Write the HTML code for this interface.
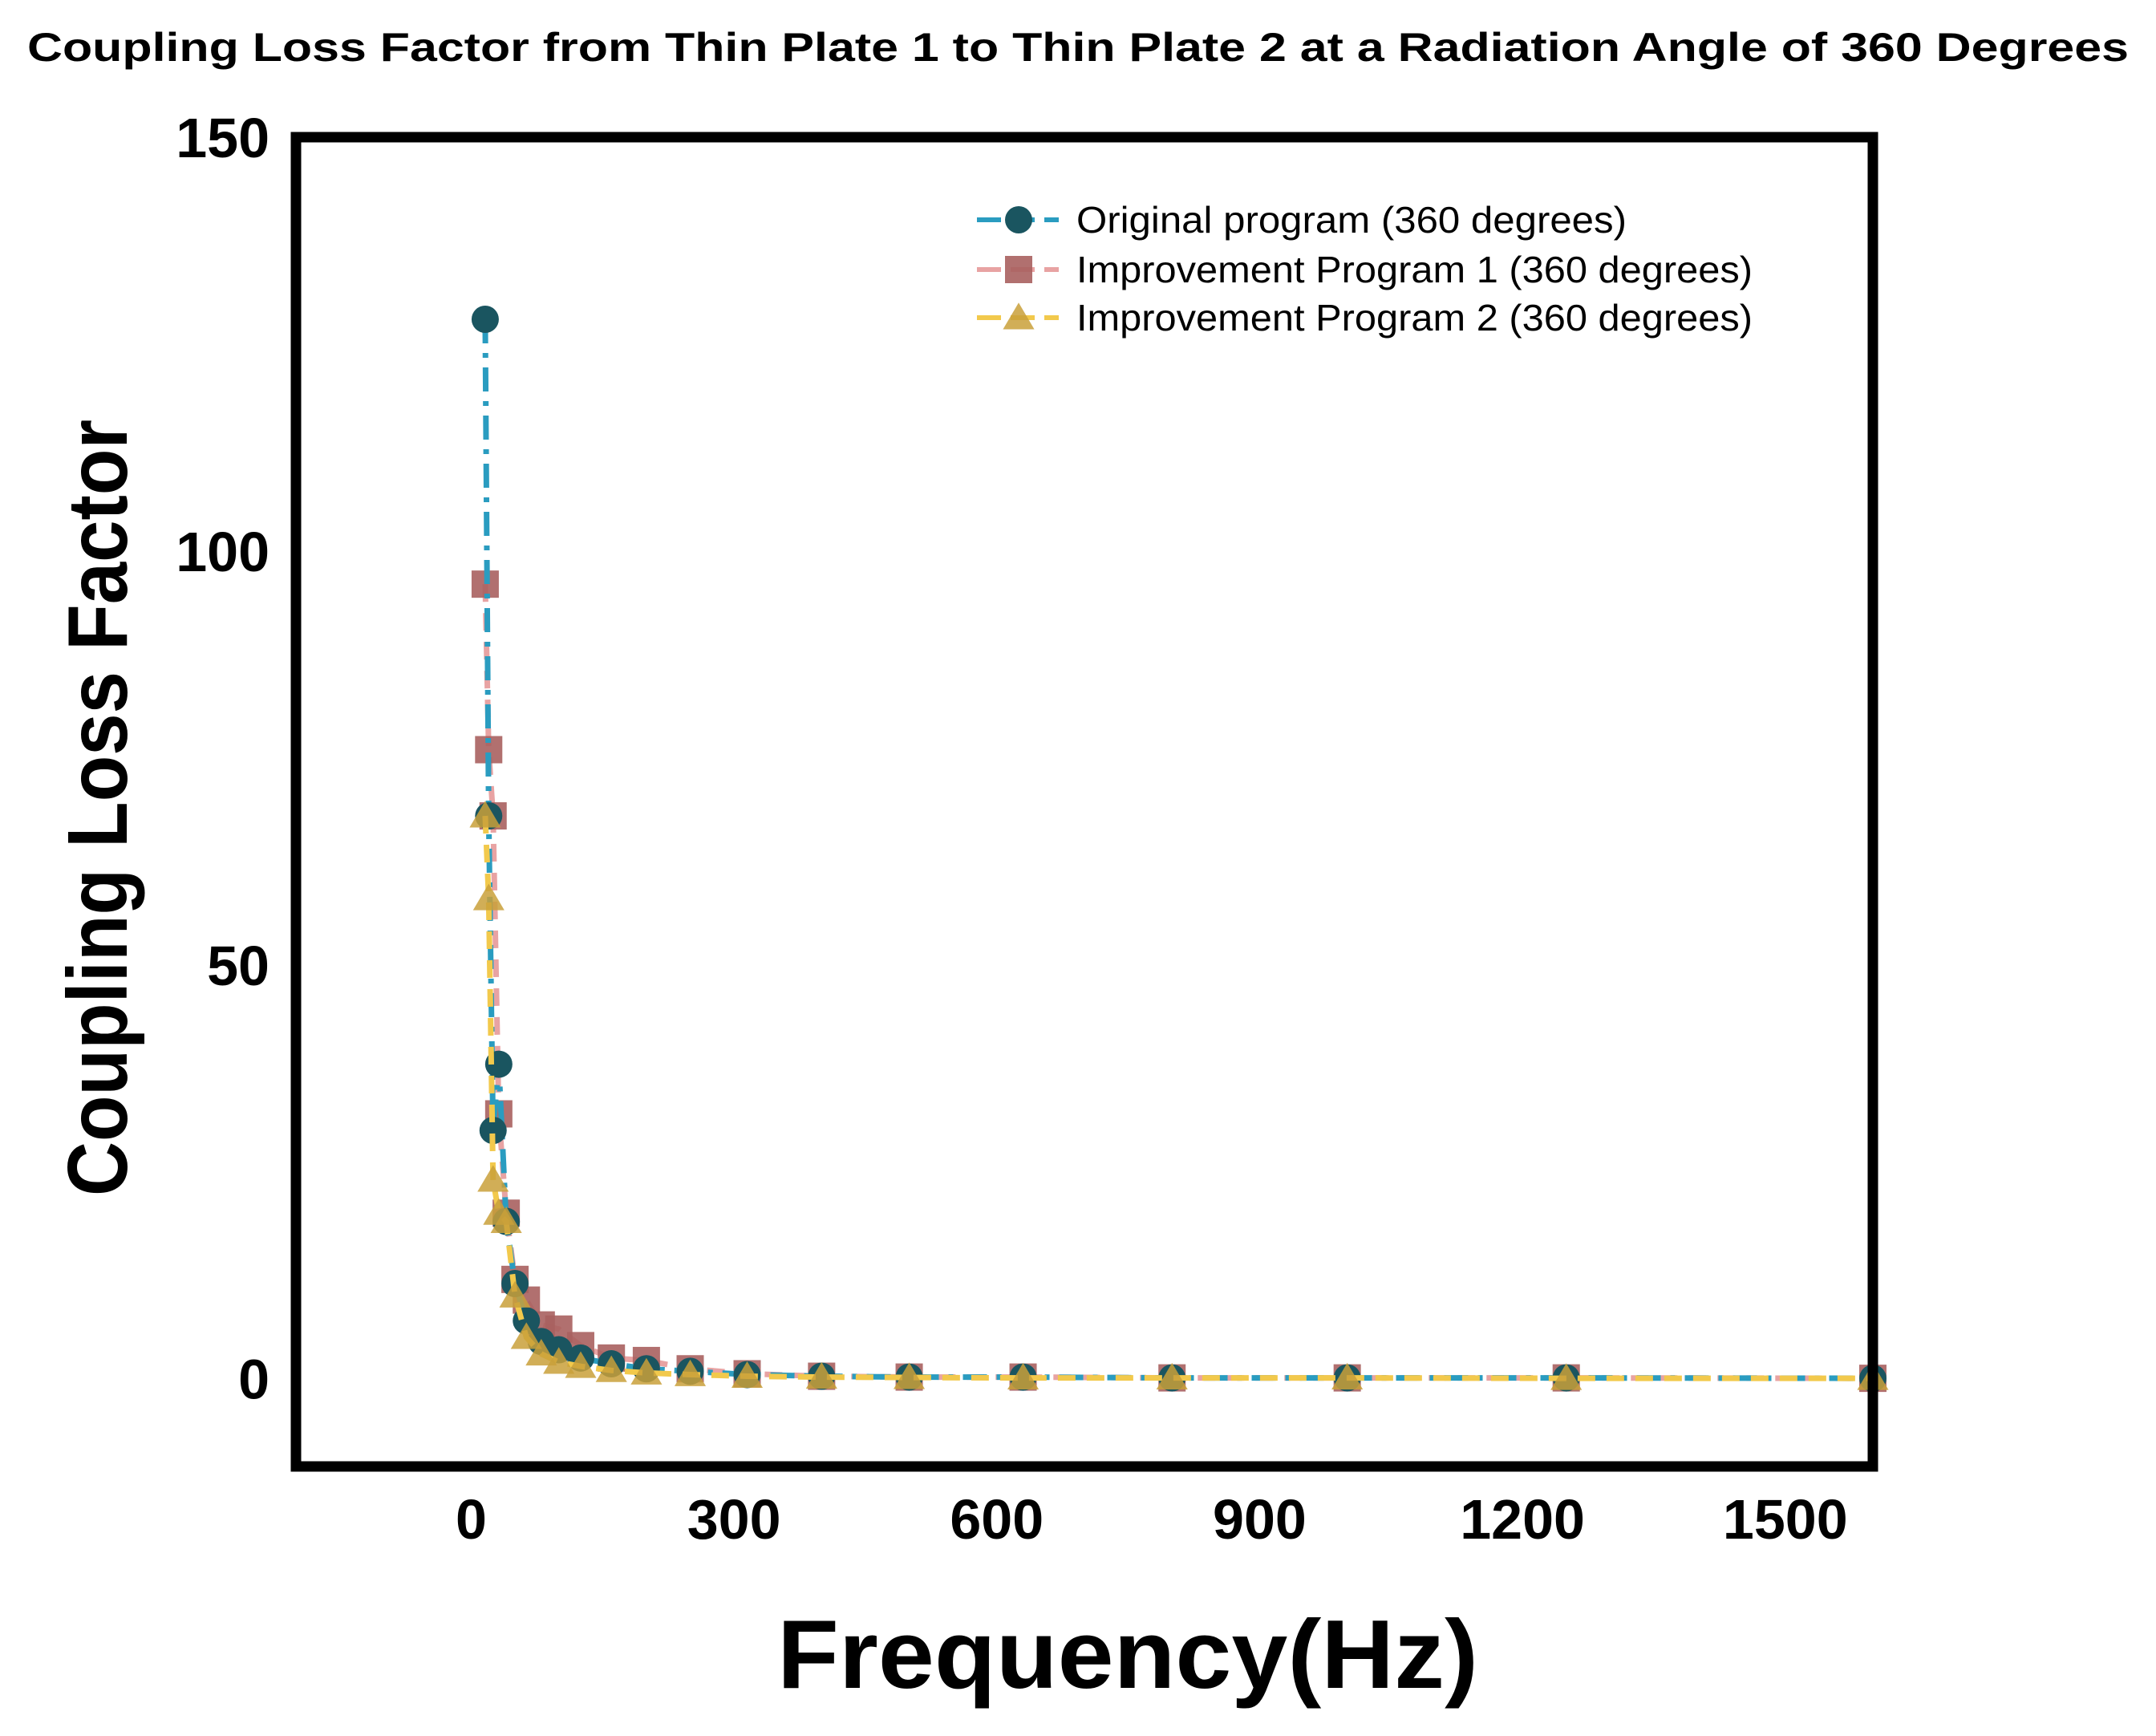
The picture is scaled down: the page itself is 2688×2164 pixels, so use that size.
<!DOCTYPE html>
<html><head><meta charset="utf-8"><style>
html,body{margin:0;padding:0;background:#fff;}
svg{display:block;font-family:"Liberation Sans",Arial,sans-serif;}
</style></head><body>
<svg id="chart" width="2688" height="2164" viewBox="0 0 2688 2164" xmlns="http://www.w3.org/2000/svg">
<text x="1344" y="76" text-anchor="middle" font-size="50" font-weight="bold" textLength="2620" lengthAdjust="spacingAndGlyphs">Coupling Loss Factor from Thin Plate 1 to Thin Plate 2 at a Radiation Angle of 360 Degrees</text>
<g id="ticks"></g>
<g id="series"></g>
<rect x="369" y="171" width="1966" height="1657" fill="none" stroke="#000" stroke-width="13"/>
<text x="1406" y="2104" text-anchor="middle" font-size="122" font-weight="bold" textLength="874" lengthAdjust="spacingAndGlyphs">Frequency(Hz)</text>
<text transform="translate(158,1007) rotate(-90)" text-anchor="middle" font-size="106" font-weight="bold" textLength="968" lengthAdjust="spacingAndGlyphs">Coupling Loss Factor</text>
<g id="legend"></g>
</svg>
<script>
const freqs = [16,20,25,31.5,40,50,63,80,100,125,160,200,250,315,400,500,630,800,1000,1250,1600];
const original = [128,68,30,38,19,11.5,7,4.5,3.5,2.5,1.8,1.2,0.9,0.5,0.3,0.2,0.2,0.1,0.1,0.1,0.05];
const improvement1 = [96,76,68,32,20,12,9.5,6.5,6,4,2.5,2.2,1.2,0.6,0.3,0.2,0.2,0.1,0.1,0.1,0.05];
const improvement2 = [68,58,24,20,19,10,5,3,2,1.5,1,0.7,0.5,0.3,0.2,0.15,0.1,0.1,0.1,0.05,0.05];
const xTicks = [0,300,600,900,1200,1500];
const yTicks = [0,50,100,150];
const legendLabels = ["Original program (360 degrees)","Improvement Program 1 (360 degrees)","Improvement Program 2 (360 degrees)"];
const legendLengths = [686,843,843];

const NS="http://www.w3.org/2000/svg";
const X0=369,X1=2335,Y0=1828,Y1=171,XMIN=-200,XMAX=1600,YMIN=-10.6,YMAX=150;
const sx=v=>X0+(v-XMIN)/(XMAX-XMIN)*(X1-X0);
const sy=v=>Y0-(v-YMIN)/(YMAX-YMIN)*(Y0-Y1);
function mk(tag,attrs,parent){const e=document.createElementNS(NS,tag);for(const k in attrs)e.setAttribute(k,attrs[k]);parent.appendChild(e);return e;}
const ticks=document.getElementById('ticks');
xTicks.forEach(t=>{const e=mk('text',{x:sx(t),y:1918,'text-anchor':'middle','font-size':70,'font-weight':'bold'},ticks);e.textContent=t;

});
yTicks.forEach(t=>{const e=mk('text',{x:336,y:sy(t)+25,'text-anchor':'end','font-size':70,'font-weight':'bold'},ticks);e.textContent=t;

});

const seriesG=document.getElementById('series');
const defs=[
 {vals:improvement1,line:'#e8a3a3',mark:'#a8605f',dash:'22 14',shape:'square',name:'improvement-1'},
 {vals:original,line:'#2a9cc0',mark:'#1a5560',dash:'30 12 6 12',shape:'circle',name:'original'},
 {vals:improvement2,line:'#f2c94c',mark:'#c9a03a',dash:'22 14',shape:'triangle',name:'improvement-2'}
];
function marker(shape,cx,cy,color,parent,r){
 let e;
 if(shape==='circle') e=mk('circle',{cx,cy,r:r,fill:color},parent);
 else if(shape==='square') e=mk('rect',{x:cx-r,y:cy-r,width:2*r,height:2*r,fill:color,opacity:0.9},parent);
 else e=mk('polygon',{points:`${cx},${cy-r*1.1} ${cx-r*1.15},${cy+r*0.85} ${cx+r*1.15},${cy+r*0.85}`,fill:color,opacity:0.85},parent);
 return e;
}
defs.forEach(d=>{
 const g=mk('g',{},seriesG);
 
 
 const pts=freqs.map((f,i)=>sx(f)+','+sy(d.vals[i])).join(' ');
 const pl=mk('polyline',{points:pts,fill:'none',stroke:d.line,'stroke-width':7,'stroke-dasharray':d.dash},g);
 
 
 freqs.forEach((f,i)=>{const m=marker(d.shape,sx(f),sy(d.vals[i]),d.mark,g,17);
 
 });
});

const leg=document.getElementById('legend');
const legY=[274,336,396];
const order=['original','improvement-1','improvement-2'];
order.map(n=>defs.find(d=>d.name===n)).forEach((d,i)=>{
 const g=mk('g',{},leg);
 
 
 mk('line',{x1:1218,x2:1320,y1:legY[i],y2:legY[i],stroke:d.line,'stroke-width':6,'stroke-dasharray':'30 12'},g);
 marker(d.shape,1270,legY[i],d.mark,g,17);
 const t=mk('text',{x:1342,y:legY[i]+16,'font-size':46,textLength:legendLengths[i],lengthAdjust:'spacingAndGlyphs'},g);
 t.textContent=legendLabels[i];
});
</script>
</body></html>
